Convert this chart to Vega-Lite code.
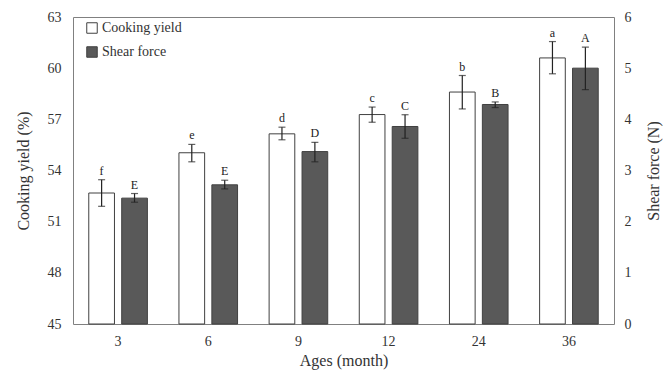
{
  "$schema": "https://vega.github.io/schema/vega-lite/v6.json",
  "width": 541,
  "height": 307,
  "autosize": "none",
  "padding": {"left": 73, "top": 17, "right": 49, "bottom": 47},
  "background": "white",
  "config": {
    "font": "Liberation Serif",
    "text": {"font": "Liberation Serif"},
    "view": {"stroke": "#808080", "strokeWidth": 1},
    "legend": {"labelFont": "Liberation Serif"},
    "axis": {"grid": false, "ticks": false, "tickSize": 0, "domain": false, "labelFont": "Liberation Serif", "titleFont": "Liberation Serif", "labelColor": "#333", "titleColor": "#333", "labelFontSize": 14, "titleFontSize": 16, "titleFontWeight": "normal"}
  },
  "data": {
    "values": [
      {"age": "3", "series": "Cooking yield", "value": 52.68, "lo": 51.9, "hi": 53.46, "letter": "f"},
      {"age": "6", "series": "Cooking yield", "value": 55.04, "lo": 54.51, "hi": 55.53, "letter": "e"},
      {"age": "9", "series": "Cooking yield", "value": 56.15, "lo": 55.8, "hi": 56.54, "letter": "d"},
      {"age": "12", "series": "Cooking yield", "value": 57.28, "lo": 56.83, "hi": 57.72, "letter": "c"},
      {"age": "24", "series": "Cooking yield", "value": 58.6, "lo": 57.61, "hi": 59.57, "letter": "b"},
      {"age": "36", "series": "Cooking yield", "value": 60.6, "lo": 59.67, "hi": 61.56, "letter": "a"},
      {"age": "3", "series": "Shear force", "value": 2.46, "lo": 2.38, "hi": 2.55, "letter": "E"},
      {"age": "6", "series": "Shear force", "value": 2.72, "lo": 2.64, "hi": 2.81, "letter": "E"},
      {"age": "9", "series": "Shear force", "value": 3.37, "lo": 3.17, "hi": 3.55, "letter": "D"},
      {"age": "12", "series": "Shear force", "value": 3.86, "lo": 3.63, "hi": 4.09, "letter": "C"},
      {"age": "24", "series": "Shear force", "value": 4.29, "lo": 4.23, "hi": 4.34, "letter": "B"},
      {"age": "36", "series": "Shear force", "value": 5.0, "lo": 4.58, "hi": 5.41, "letter": "A"}
    ]
  },
  "encoding": {
    "x": {"field": "age", "type": "nominal", "sort": ["3", "6", "9", "12", "24", "36"], "scale": {"paddingInner": 0.35, "paddingOuter": 0.175}, "axis": {"title": "Ages (month)", "labelAngle": 0, "labelPadding": 10, "titlePadding": 4, "domain": false}},
    "xOffset": {"field": "series", "type": "nominal", "scale": {"domain": ["Cooking yield", "Shear force"], "paddingInner": 0.22, "paddingOuter": 0}}
  },
  "layer": [
    {
      "transform": [{"filter": "datum.series == 'Cooking yield'"}],
      "layer": [
        {
          "mark": {"type": "bar", "stroke": "#404040", "strokeWidth": 1},
          "encoding": {
            "y": {"field": "value", "type": "quantitative", "scale": {"domain": [45, 63], "zero": false, "padding": 0, "nice": false}, "axis": {"title": "Cooking yield (%)", "values": [45, 48, 51, 54, 57, 60, 63], "labelPadding": 12, "titlePadding": 16}},
            "y2": {"datum": 45},
            "color": {"field": "series", "type": "nominal", "scale": {"domain": ["Cooking yield", "Shear force"], "range": ["#ffffff", "#595959"]}, "legend": {"title": null, "orient": "none", "legendX": 12, "legendY": 4, "symbolType": "square", "symbolSize": 110, "symbolStrokeColor": "#404040", "symbolStrokeWidth": 1, "labelFontSize": 14, "labelFont": "Liberation Serif", "labelColor": "#333", "rowPadding": 8, "labelOffset": 3}}
          }
        },
        {
          "mark": {"type": "rule", "color": "#222", "strokeWidth": 1.2},
          "encoding": {"y": {"field": "lo", "type": "quantitative"}, "y2": {"field": "hi"}}
        },
        {
          "mark": {"type": "tick", "color": "#222", "thickness": 1.2, "size": 7},
          "encoding": {"y": {"field": "lo", "type": "quantitative"}}
        },
        {
          "mark": {"type": "tick", "color": "#222", "thickness": 1.2, "size": 7},
          "encoding": {"y": {"field": "hi", "type": "quantitative"}}
        },
        {
          "mark": {"type": "text", "baseline": "bottom", "dy": -2, "fontSize": 12, "color": "#222", "font": "Liberation Serif"},
          "encoding": {"y": {"field": "hi", "type": "quantitative"}, "text": {"field": "letter"}}
        }
      ]
    },
    {
      "transform": [{"filter": "datum.series == 'Shear force'"}],
      "layer": [
        {
          "mark": {"type": "bar", "stroke": "#404040", "strokeWidth": 1},
          "encoding": {
            "y": {"field": "value", "type": "quantitative", "scale": {"domain": [0, 6], "padding": 0, "nice": false}, "axis": {"orient": "right", "title": "Shear force (N)", "titleAngle": 270, "titleBaseline": "top", "values": [0, 1, 2, 3, 4, 5, 6], "labelPadding": 10, "titlePadding": 14}},
            "color": {"field": "series", "type": "nominal", "scale": {"domain": ["Cooking yield", "Shear force"], "range": ["#ffffff", "#595959"]}}
          }
        },
        {
          "mark": {"type": "rule", "color": "#222", "strokeWidth": 1.2},
          "encoding": {"y": {"field": "lo", "type": "quantitative"}, "y2": {"field": "hi"}}
        },
        {
          "mark": {"type": "tick", "color": "#222", "thickness": 1.2, "size": 7},
          "encoding": {"y": {"field": "lo", "type": "quantitative"}}
        },
        {
          "mark": {"type": "tick", "color": "#222", "thickness": 1.2, "size": 7},
          "encoding": {"y": {"field": "hi", "type": "quantitative"}}
        },
        {
          "mark": {"type": "text", "baseline": "bottom", "dy": -2, "fontSize": 12, "color": "#222", "font": "Liberation Serif"},
          "encoding": {"y": {"field": "hi", "type": "quantitative"}, "text": {"field": "letter"}}
        }
      ],
      "resolve": {"scale": {"y": "shared"}}
    }
  ],
  "resolve": {"scale": {"y": "independent"}}
}
